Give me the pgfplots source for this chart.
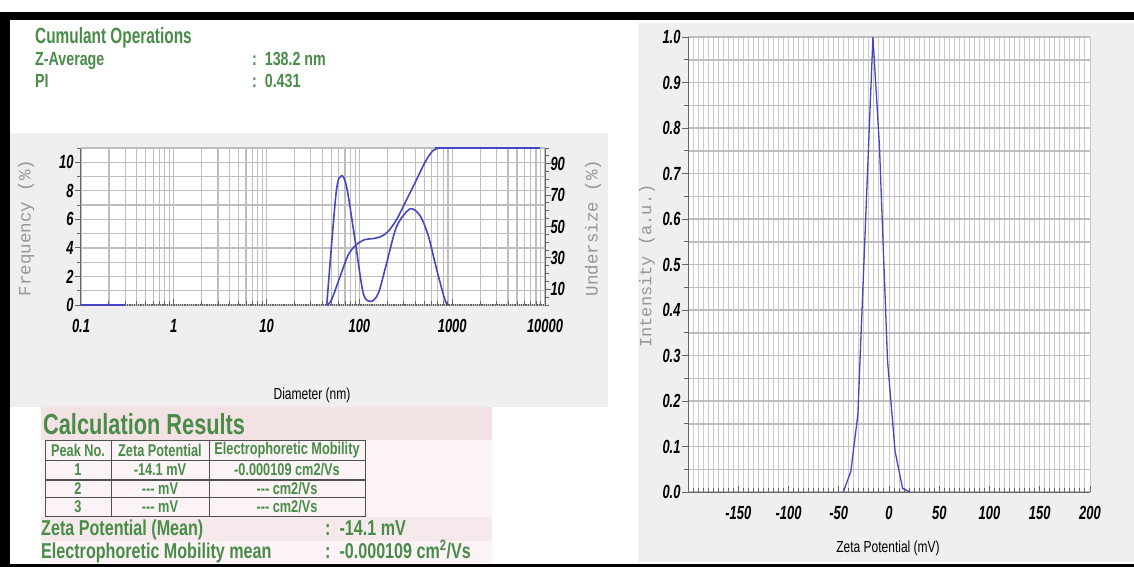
\documentclass[border=0pt]{standalone}
\usepackage{pgfplots}
\pgfplotsset{compat=1.18}
\usepackage{fontspec}
\setmainfont{Liberation Sans}[FakeStretch=0.75]
\newfontfamily\narrowB{Liberation Sans}[FakeStretch=0.7]
\newfontfamily\tickfont{Liberation Sans}[FakeStretch=0.68]
\newfontfamily\monofont{Liberation Mono}
\definecolor{grn}{RGB}{72,140,72}
\definecolor{crv}{RGB}{70,70,195}
\definecolor{bgg}{RGB}{239,239,239}
\definecolor{grdA}{RGB}{190,190,190}
\definecolor{grdB}{RGB}{202,202,202}
\definecolor{axc}{RGB}{100,100,100}
\definecolor{lab}{RGB}{150,150,150}
\definecolor{pinkA}{RGB}{242,226,228}
\definecolor{pinkB}{RGB}{252,243,247}
\definecolor{pinkC}{RGB}{245,233,235}
\definecolor{tbl}{RGB}{80,80,80}
\newcommand{\tickf}{\tickfont\fontsize{19}{19}\selectfont\bfseries\itshape}
\begin{document}
\begin{tikzpicture}[x=1pt,y=-1pt]
\useasboundingbox (0,0) rectangle (1134,567);
\fill[white] (0,0) rectangle (1134,567);
% backgrounds
\fill[bgg] (10,133) rectangle (608,407);
\fill[bgg] (638,23) rectangle (1134,562);
\fill[pinkA] (41,407) rectangle (492,440);
\fill[pinkB] (41,440) rectangle (492,517);
\fill[pinkC] (41,517) rectangle (492,541);
\fill[pinkB] (41,541) rectangle (492,563);

% ---------- Size distribution (frequency) ----------
\begin{axis}[
  at={(81pt,-305pt)}, anchor=south west, scale only axis,
  width=464pt, height=157pt,
  xmode=log, xmin=0.1, xmax=10000,
  ymin=0, ymax=11,
  clip=false,
  axis background/.style={fill=white},
  axis x line*=bottom, axis y line*=left,
  x axis line style={draw=axc, densely dotted, line width=1.2pt, -},
  y axis line style={draw=axc, line width=1pt, -},
  xtick={0.1,1,10,100,1000,10000},
  xticklabels={0.1,1,10,100,1000,10000},
  minor xtick={0.2,0.3,0.4,0.5,0.6,0.7,0.8,0.9,2,3,4,5,6,7,8,9,20,30,40,50,60,70,80,90,200,300,400,500,600,700,800,900,2000,3000,4000,5000,6000,7000,8000,9000},
  ytick={0,2,4,6,8,10},
  minor ytick={1,3,5,7,9,11},
  grid=both,
  major grid style={grdA, line width=1.2pt},
  minor grid style={grdA, line width=1.2pt},
  xtick align=inside, ytick align=outside,
  major tick length=6pt, minor tick length=4pt,
  tick style={axc, line width=1pt},
  tick label style={font=\tickf},
  xticklabel style={yshift=-11pt},
  yticklabel style={xshift=2pt},
  /pgf/number format/assume math mode=true,
]
\addplot[crv, line width=1.6pt] coordinates {(0.1,0) (0.295,0)};
\addplot[crv, line width=1.6pt, smooth, tension=0.5] coordinates {
(44.5,0) (56,7.8) (64,9.05) (73,8.25) (89.5,4.6) (110,0.83) (133,0.25)
(160,0.83) (197,2.95) (252,5.5) (351,6.73) (450,6.26) (553,4.84)
(681,2.48) (836,0.35) (908,0)};
\end{axis}

% ---------- Undersize (cumulative) ----------
\begin{axis}[
  at={(81pt,-305pt)}, anchor=south west, scale only axis,
  width=464pt, height=157pt,
  xmode=log, xmin=0.1, xmax=10000,
  ymin=0, ymax=100,
  clip=false,
  axis x line=none, axis y line*=right,
  y axis line style={draw=axc, line width=1pt, -},
  ytick={10,30,50,70,90},
  minor ytick={0,5,15,20,25,35,40,45,55,60,65,75,80,85,95,100},
  ytick align=outside,
  major tick length=6pt, minor tick length=4pt,
  tick style={axc, line width=1pt},
  tick label style={font=\tickf},
  yticklabel style={xshift=-4pt},
  /pgf/number format/assume math mode=true,
]
\addplot[crv, line width=1.6pt, smooth, tension=0.5] coordinates {
(44.5,0) (50,3.2) (61.8,18) (76,32) (93,38.5) (115,41.7) (141,42.3)
(174,43.8) (205,47) (252,54.5) (324,67.3) (414,80) (490,89) (560,95)
(627,98.5) (700,99.8) (780,100) (8800,100)};
\end{axis}

% ---------- Zeta potential ----------
\begin{axis}[
  at={(688pt,-492pt)}, anchor=south west, scale only axis,
  width=402pt, height=455pt,
  xmin=-200, xmax=200, ymin=0, ymax=1,
  axis background/.style={fill=white},
  axis x line*=bottom, axis y line*=left,
  x axis line style={draw=axc, line width=1pt, -},
  y axis line style={draw=axc, line width=1pt, -},
  xtick={-200,-150,-100,-50,0,50,100,150,200},
  xticklabels={,-150,-100,-50,0,50,100,150,200},
  minor x tick num=9,
  ytick={0,0.1,0.2,0.3,0.4,0.5,0.6,0.7,0.8,0.9,1.0},
  yticklabels={0.0,0.1,0.2,0.3,0.4,0.5,0.6,0.7,0.8,0.9,1.0},
  minor y tick num=1,
  grid=both,
  major x grid style={grdB, line width=1pt},
  minor x grid style={grdB, line width=1pt},
  major y grid style={grdA, line width=1.5pt},
  minor y grid style={grdA, line width=1.5pt},
  xtick align=inside, ytick align=outside,
  major tick length=6pt, minor tick length=4pt,
  tick style={axc, line width=1pt},
  tick label style={font=\tickf},
  xticklabel style={yshift=-11pt},
  yticklabel style={xshift=2pt},
]
\addplot[crv, line width=1.3pt] coordinates {
(-45.5,0) (-38,0.045) (-31,0.17) (-16,1.0) (-9.5,0.76) (-1.5,0.29)
(6,0.09) (13.5,0.008) (21,0)};
\end{axis}

% ---------- texts ----------
\node[anchor=base west, inner sep=0, text=grn, font=\narrowB\fontsize{22}{22}\selectfont\bfseries] at (35,44) {Cumulant Operations};
\node[anchor=base west, inner sep=0, text=grn, font=\fontsize{19}{19}\selectfont\bfseries] at (35,66) {Z-Average};
\node[anchor=base west, inner sep=0, text=grn, font=\fontsize{19}{19}\selectfont\bfseries] at (35,88) {PI};
\node[anchor=base west, inner sep=0, text=grn, font=\fontsize{19}{19}\selectfont\bfseries] at (252,66) {:\ \ 138.2 nm};
\node[anchor=base west, inner sep=0, text=grn, font=\fontsize{19}{19}\selectfont\bfseries] at (252,88) {:\ \ 0.431};

\node[rotate=90, text=lab, font=\monofont\fontsize{17.5}{17.5}\selectfont] at (26,228) {Frequency (\%)};
\node[rotate=90, text=lab, font=\monofont\fontsize{17.5}{17.5}\selectfont] at (593,228) {Undersize (\%)};
\node[rotate=90, text=lab, font=\monofont\fontsize{17}{17}\selectfont] at (647,266) {Intensity (a.u.)};
\node[font=\fontsize{16}{16}\selectfont] at (312,395) {Diameter (nm)};
\node[font=\fontsize{16}{16}\selectfont] at (888,548) {Zeta Potential (mV)};

% ---------- calculation results ----------
\node[anchor=base west, inner sep=0, text=grn, font=\fontsize{29}{29}\selectfont\bfseries] at (43,434) {Calculation Results};
\draw[tbl, line width=1pt] (45.5,440) rectangle (365.5,516.7);
\draw[tbl, line width=1pt] (45.5,460) -- (365.5,460);
\draw[tbl, line width=2pt] (45.5,480) -- (365.5,480);
\draw[tbl, line width=1pt] (45.5,497.3) -- (365.5,497.3);
\draw[tbl, line width=1pt] (111,440) -- (111,516.7);
\draw[tbl, line width=1pt] (209,440) -- (209,516.7);
\begin{scope}[every node/.style={text=grn, font=\fontsize{17}{17}\selectfont\bfseries, inner sep=0}]
\node at (78,450) {Peak No.};
\node at (160,450) {Zeta Potential};
\node at (287,450) {Electrophoretic Mobility};
\node at (78,470) {1};
\node at (160,470) {-14.1 mV};
\node at (287,470) {-0.000109 cm2/Vs};
\node at (78,489) {2};
\node at (160,489) {-{}-{}- mV};
\node at (287,489) {-{}-{}- cm2/Vs};
\node at (78,507) {3};
\node at (160,507) {-{}-{}- mV};
\node at (287,507) {-{}-{}- cm2/Vs};
\end{scope}
\node[anchor=base west, inner sep=0, text=grn, font=\fontsize{21.5}{21.5}\selectfont\bfseries] at (41,535) {Zeta Potential (Mean)};
\node[anchor=base west, inner sep=0, text=grn, font=\fontsize{21.5}{21.5}\selectfont\bfseries] at (41,558) {Electrophoretic Mobility mean};
\node[anchor=base west, inner sep=0, text=grn, font=\fontsize{21.5}{21.5}\selectfont\bfseries] at (325,535) {:\ \ -14.1 mV};
\node[anchor=base west, inner sep=0, text=grn, font=\fontsize{21.5}{21.5}\selectfont\bfseries] at (325,558) {:\ \ -0.000109 cm\textsuperscript{2}/Vs};

% ---------- black frame ----------
\fill[black] (0,12) rectangle (1134,20);
\fill[black] (0,12) rectangle (10,567);
\fill[black] (0,563.5) rectangle (1134,567);
\end{tikzpicture}
\end{document}
